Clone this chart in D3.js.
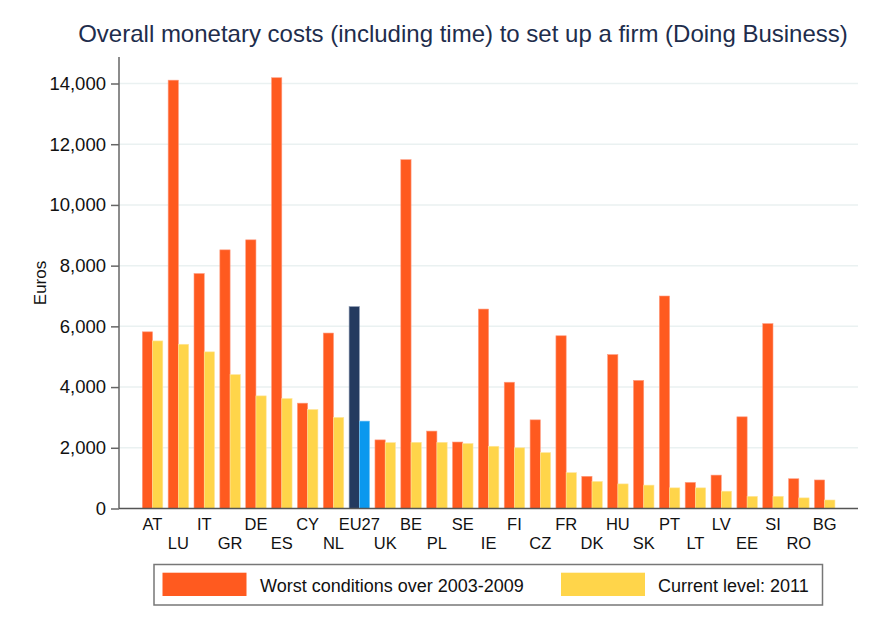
<!DOCTYPE html>
<html>
  <head>
    <script src="https://cdnjs.cloudflare.com/ajax/libs/d3/7.8.5/d3.min.js"></script>
    <style>
      body {
        margin: 0;
        background: #ffffff;
      }
      text {
        font-family: "Liberation Sans", Arial, Helvetica, sans-serif;
      }
    </style>
  </head>
  <body>
    <div id="chart"></div>
    <script>
      // data
      const countries = ["AT", "LU", "IT", "GR", "DE", "ES", "CY", "NL", "EU27", "UK", "BE", "PL", "SE", "IE",
        "FI", "CZ", "FR", "DK", "HU", "SK", "PT", "LT", "LV", "EE", "SI", "RO", "BG"];
      const worst = [5820, 14110, 7740, 8520, 8850, 14190, 3470, 5780, 6650, 2260, 11490, 2550, 2190, 6570,
        4160, 2920, 5690, 1060, 5070, 4220, 7000, 860, 1100, 3020, 6090, 980, 940];
      const current = [5520, 5410, 5160, 4410, 3710, 3620, 3260, 3000, 2880, 2170, 2180, 2180, 2140, 2050,
        2000, 1840, 1180, 890, 810, 770, 680, 680, 570, 400, 400, 350, 280];
      const yTicks = [0, 2000, 4000, 6000, 8000, 10000, 12000, 14000];
      const seriesNames = ["Worst conditions over 2003-2009", "Current level: 2011"];

      const width = 880;
      const height = 634;

      // colours
      const orange = "#ff5a1f";
      const yellow = "#ffd54a";
      const euDark = "#243a5f";
      const euLight = "#0a98ee";

      const plotLeft = 119;
      const plotRight = 858;
      const plotTop = 57;

      const svg = d3.select("#chart").append("svg")
        .attr("width", width)
        .attr("height", height);

      // scales
      const x = d3.scaleBand().domain(countries).range([139.6, 837.6]).padding(0);
      const x1 = d3.scaleBand().domain(["worst", "current"]).range([2.7, 23.2]).padding(0);
      const y = d3.scaleLinear().domain([0, 14000]).range([508.5, 83.5]);

      // title
      svg.append("text")
        .attr("x", 463)
        .attr("y", 42)
        .attr("text-anchor", "middle")
        .style("font-size", "24px")
        .style("fill", "#1e2d4c")
        .text("Overall monetary costs (including time) to set up a firm (Doing Business)");

      // gridlines
      svg.append("g")
        .selectAll("line")
        .data(yTicks.filter((d) => d > 0))
        .join("line")
        .attr("x1", plotLeft)
        .attr("x2", plotRight)
        .attr("y1", (d) => y(d))
        .attr("y2", (d) => y(d))
        .style("stroke", "#eaf1f1")
        .style("stroke-width", 1.5);

      // bars
      const rows = countries.map((c, i) => ({ c, worst: worst[i], current: current[i] }));
      const groups = svg.append("g")
        .selectAll("g")
        .data(rows)
        .join("g")
        .attr("transform", (d) => `translate(${x(d.c)},0)`);

      groups.append("rect")
        .attr("x", x1("worst"))
        .attr("width", x1.bandwidth())
        .attr("y", (d) => y(d.worst))
        .attr("height", (d) => y(0) - y(d.worst))
        .style("fill", (d) => (d.c === "EU27" ? euDark : orange))
        .style("stroke", (d) => (d.c === "EU27" ? "#8594ad" : "#ff9c80"))
        .style("stroke-width", 0.6);

      groups.append("rect")
        .attr("x", x1("current"))
        .attr("width", x1.bandwidth())
        .attr("y", (d) => y(d.current))
        .attr("height", (d) => y(0) - y(d.current))
        .style("fill", (d) => (d.c === "EU27" ? euLight : yellow))
        .style("stroke", (d) => (d.c === "EU27" ? "#7cc8f6" : "#ffe59a"))
        .style("stroke-width", 0.6);

      // y axis
      const yAxis = svg.append("g")
        .attr("transform", `translate(${plotLeft},0)`)
        .call(d3.axisLeft(y).tickValues(yTicks).tickSize(8).tickPadding(5).tickFormat(d3.format(",")));
      yAxis.select(".domain").remove();
      yAxis.selectAll(".tick line").style("stroke", "#666").style("stroke-width", 1.5);
      yAxis.selectAll(".tick text")
        .style("font-size", "18.5px")
        .style("fill", "#111")
        .style("font-family", "'Liberation Sans', Arial, sans-serif");

      svg.append("line")
        .attr("x1", plotLeft).attr("x2", plotLeft)
        .attr("y1", plotTop).attr("y2", y(0))
        .style("stroke", "#666")
        .style("stroke-width", 1.5);

      // x axis
      const xAxis = svg.append("g")
        .attr("transform", `translate(0,${y(0)})`)
        .call(d3.axisBottom(x).tickSize(0).tickPadding(0));
      xAxis.select(".domain")
        .attr("d", `M${plotLeft},0H${plotRight}`)
        .style("stroke", "#555")
        .style("stroke-width", 1.5);
      xAxis.selectAll(".tick text")
        .attr("y", (d, i) => (i % 2 === 0 ? 21.5 : 40))
        .attr("dy", 0)
        .style("font-size", "16.5px")
        .style("fill", "#111")
        .style("font-family", "'Liberation Sans', Arial, sans-serif");

      // y axis label
      svg.append("text")
        .attr("transform", "translate(46,283) rotate(-90)")
        .attr("text-anchor", "middle")
        .style("font-size", "17px")
        .style("fill", "#111")
        .text("Euros");

      // legend
      const legend = svg.append("g");
      legend.append("rect")
        .attr("x", 154)
        .attr("y", 564.5)
        .attr("width", 668.5)
        .attr("height", 40.5)
        .style("fill", "#fff")
        .style("stroke", "#777")
        .style("stroke-width", 1.5);

      const legendItems = [
        { name: seriesNames[0], color: orange, sx: 162.5, tx: 260 },
        { name: seriesNames[1], color: yellow, sx: 561, tx: 658 },
      ];
      const li = legend.selectAll("g.item")
        .data(legendItems)
        .join("g")
        .attr("class", "item");
      li.append("rect")
        .attr("x", (d) => d.sx)
        .attr("y", 572.7)
        .attr("width", 84)
        .attr("height", 23.3)
        .style("fill", (d) => d.color);
      li.append("text")
        .attr("x", (d) => d.tx)
        .attr("y", 592)
        .style("font-size", "18px")
        .style("fill", "#111")
        .text((d) => d.name);
    </script>
  </body>
</html>
